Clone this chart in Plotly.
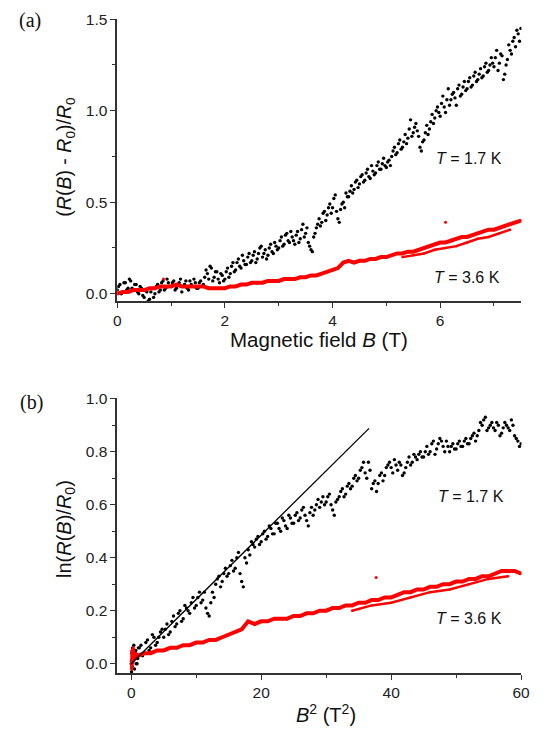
import numpy as np
import plotly.graph_objects as go

# ---------------- Panel (a): (R(B)-R0)/R0 vs B ----------------
# T = 1.7 K, sweep 1: B = 0 .. 7.5 T in steps of 0.05 T
black_a_B = np.round(np.arange(0, 7.5001, 0.05), 3)
black_a_y = [
    0.02, 0.05, 0.01, 0.06, 0.03, 0.07, 0.02, 0.05, 0.00, 0.03,
    -0.02, 0.01, -0.03, 0.03, 0.00, 0.05, 0.02, 0.07, 0.03, 0.06,
    0.04, 0.07, 0.03, 0.06, 0.01, 0.05, 0.03, 0.07, 0.04, 0.06,
    0.03, 0.07, 0.05, 0.13, 0.08, 0.14, 0.09, 0.12, 0.06, 0.10,
    0.08, 0.14, 0.11, 0.17, 0.13, 0.19, 0.14, 0.18, 0.16, 0.22,
    0.18, 0.23, 0.19, 0.25, 0.20, 0.24, 0.21, 0.27, 0.22, 0.26,
    0.25, 0.31, 0.27, 0.33, 0.28, 0.31, 0.27, 0.34, 0.30, 0.38,
    0.33, 0.28, 0.24, 0.31, 0.36, 0.41, 0.39, 0.45, 0.43, 0.49,
    0.47, 0.54, 0.41, 0.46, 0.50, 0.55, 0.53, 0.59, 0.57, 0.62,
    0.60, 0.65, 0.62, 0.68, 0.63, 0.67, 0.66, 0.72, 0.68, 0.74,
    0.69, 0.73, 0.75, 0.80, 0.77, 0.84, 0.80, 0.87, 0.85, 0.95,
    0.88, 0.93, 0.86, 0.78, 0.84, 0.92, 0.90, 0.98, 0.96, 1.02,
    0.97, 1.08, 0.99, 1.12, 1.06, 1.10, 1.03, 1.14, 1.09, 1.16,
    1.12, 1.18, 1.14, 1.21, 1.17, 1.23, 1.19, 1.26, 1.22, 1.29,
    1.24, 1.33, 1.26, 1.30, 1.20, 1.28, 1.33, 1.38, 1.35, 1.42,
    1.45,
]
# T = 1.7 K, sweep 2: B = 0.025 .. 7.475 T in steps of 0.05 T
black_a_B2 = np.round(np.arange(0.025, 7.5, 0.05), 3)
black_a_y2 = [
    0.04, 0.00, 0.06, 0.02, 0.08, 0.03, 0.05, 0.01, 0.04, -0.01,
    0.02, -0.04, 0.01, -0.02, 0.04, 0.01, 0.06, 0.02, 0.08, 0.04,
    0.06, 0.02, 0.05, 0.08, 0.04, 0.07, 0.02, 0.05, 0.08, 0.03,
    0.06, 0.04, 0.09, 0.11, 0.15, 0.07, 0.12, 0.08, 0.11, 0.07,
    0.12, 0.09, 0.15, 0.12, 0.17, 0.15, 0.21, 0.16, 0.20, 0.17,
    0.21, 0.17, 0.22, 0.26, 0.22, 0.19, 0.25, 0.23, 0.28, 0.24,
    0.29, 0.26, 0.32, 0.29, 0.34, 0.29, 0.32, 0.28, 0.35, 0.31,
    0.36, 0.26, 0.23, 0.33, 0.38, 0.37, 0.44, 0.40, 0.47, 0.44,
    0.52, 0.45, 0.39, 0.49, 0.47, 0.53, 0.56, 0.55, 0.61, 0.58,
    0.64, 0.61, 0.66, 0.64, 0.70, 0.65, 0.70, 0.68, 0.71, 0.70,
    0.72, 0.70, 0.78, 0.76, 0.82, 0.79, 0.83, 0.82, 0.90, 0.86,
    0.91, 0.89, 0.80, 0.83, 0.88, 0.87, 0.94, 0.93, 1.00, 0.99,
    1.04, 1.02, 1.06, 1.03, 1.09, 1.07, 1.12, 1.08, 1.13, 1.11,
    1.16, 1.13, 1.19, 1.16, 1.20, 1.18, 1.24, 1.21, 1.25, 1.26,
    1.29, 1.22, 1.31, 1.17, 1.25, 1.36, 1.31, 1.40, 1.44, 1.38,
]

# T = 3.6 K, B = 0 .. 7.5 T in steps of 0.1 T
red_a_B = np.round(np.arange(0, 7.5001, 0.1), 3)
red_a_y = [
    0.00, 0.01, 0.01, 0.02, 0.02, 0.02, 0.03, 0.03, 0.04, 0.04,
    0.04, 0.05, 0.04, 0.04, 0.04, 0.04, 0.04, 0.03, 0.03, 0.03,
    0.03, 0.04, 0.04, 0.05, 0.05, 0.06, 0.06, 0.06, 0.07, 0.07,
    0.07, 0.08, 0.08, 0.08, 0.09, 0.09, 0.10, 0.10, 0.11, 0.12,
    0.13, 0.14, 0.17, 0.18, 0.17, 0.18, 0.18, 0.19, 0.19, 0.20,
    0.20, 0.21, 0.22, 0.22, 0.23, 0.23, 0.24, 0.25, 0.26, 0.27,
    0.28, 0.28, 0.29, 0.30, 0.31, 0.31, 0.32, 0.33, 0.34, 0.35,
    0.35, 0.36, 0.37, 0.38, 0.39, 0.40,
]
# lower sweep branch of the 3.6 K curve
red_a_low_B = [5.3, 5.5, 5.7, 5.9, 6.1, 6.3, 6.5, 6.7, 6.9, 7.1, 7.3]
red_a_low_y = [0.20, 0.21, 0.22, 0.24, 0.25, 0.26, 0.28, 0.30, 0.31, 0.33, 0.35]
red_a_out_B = [0.86, 6.1]
red_a_out_y = [0.08, 0.39]

# ---------------- Panel (b): ln(R(B)/R0) vs B^2 ----------------
black_b_near0_x = [0.05, 0.1, 0.15, 0.2, 0.3, 0.4, 0.5, 0.7, 0.9, 1.1]
black_b_near0_y = [-0.03, 0.04, -0.01, 0.06, 0.01, 0.07, -0.02, 0.05, 0.00, 0.06]
black_b_x = np.round(np.arange(0, 60.001, 0.5), 2)
black_b_y = [
    0.00, 0.05, 0.02, 0.07, 0.04, 0.09, 0.06, 0.10, 0.08, 0.12,
    0.10, 0.15, 0.12, 0.18, 0.15, 0.20, 0.17, 0.21, 0.19, 0.25,
    0.22, 0.27, 0.24, 0.21, 0.18, 0.27, 0.30, 0.33, 0.31, 0.36,
    0.34, 0.39, 0.36, 0.42, 0.31, 0.40, 0.43, 0.46, 0.44, 0.48,
    0.46, 0.50, 0.48, 0.51, 0.49, 0.53, 0.50, 0.54, 0.51, 0.55,
    0.53, 0.57, 0.55, 0.59, 0.54, 0.57, 0.56, 0.60, 0.59, 0.63,
    0.61, 0.64, 0.58, 0.61, 0.63, 0.66, 0.64, 0.68, 0.67, 0.71,
    0.70, 0.74, 0.72, 0.76, 0.66, 0.69, 0.68, 0.72, 0.71, 0.75,
    0.74, 0.77, 0.73, 0.75, 0.72, 0.76, 0.75, 0.79, 0.77, 0.80,
    0.78, 0.82, 0.80, 0.84, 0.81, 0.85, 0.82, 0.84, 0.80, 0.83,
    0.81, 0.84, 0.82, 0.85, 0.83, 0.86, 0.84, 0.88, 0.90, 0.93,
    0.89, 0.91, 0.88, 0.90, 0.87, 0.91, 0.89, 0.92, 0.86, 0.84,
    0.83,
]
black_b_x2 = np.round(np.arange(0.25, 60, 0.5), 2)
black_b_y2 = [
    0.03, 0.00, 0.06, 0.03, 0.08, 0.05, 0.11, 0.07, 0.10, 0.13,
    0.13, 0.11, 0.16, 0.14, 0.19, 0.16, 0.22, 0.20, 0.23, 0.21,
    0.25, 0.23, 0.27, 0.19, 0.23, 0.25, 0.32, 0.29, 0.34, 0.33,
    0.37, 0.35, 0.40, 0.34, 0.29, 0.38, 0.41, 0.45, 0.47, 0.45,
    0.49, 0.47, 0.52, 0.49, 0.53, 0.51, 0.55, 0.52, 0.56, 0.53,
    0.56, 0.54, 0.58, 0.56, 0.52, 0.59, 0.58, 0.62, 0.61, 0.60,
    0.63, 0.60, 0.56, 0.62, 0.65, 0.63, 0.67, 0.66, 0.70, 0.69,
    0.73, 0.76, 0.70, 0.73, 0.68, 0.65, 0.71, 0.69, 0.74, 0.76,
    0.72, 0.75, 0.76, 0.71, 0.74, 0.78, 0.76, 0.78, 0.79, 0.78,
    0.80, 0.79, 0.83, 0.79, 0.83, 0.84, 0.80, 0.82, 0.82, 0.81,
    0.83, 0.82, 0.84, 0.83, 0.85, 0.87, 0.86, 0.91, 0.92, 0.88,
    0.90, 0.89, 0.91, 0.86, 0.89, 0.90, 0.88, 0.90, 0.85, 0.82,
]

red_b_near0_x = [0.05, 0.1, 0.2, 0.3, 0.5, 0.7, 1.0]
red_b_near0_y = [-0.02, 0.05, 0.00, 0.06, 0.02, 0.04, 0.03]
red_b_x = np.arange(0, 61, 1)
red_b_y = [
    0.01, 0.03, 0.04, 0.04, 0.05, 0.05, 0.06, 0.06, 0.07, 0.07,
    0.08, 0.08, 0.09, 0.09, 0.10, 0.11, 0.12, 0.13, 0.16, 0.15,
    0.16, 0.16, 0.17, 0.17, 0.17, 0.18, 0.18, 0.19, 0.19, 0.20,
    0.20, 0.21, 0.21, 0.22, 0.22, 0.23, 0.23, 0.24, 0.24, 0.25,
    0.25, 0.26, 0.27, 0.27, 0.28, 0.28, 0.29, 0.29, 0.30, 0.30,
    0.31, 0.31, 0.32, 0.32, 0.33, 0.33, 0.34, 0.35, 0.35, 0.35,
    0.34,
]
red_b_low_x = [34, 37, 40, 43, 46, 49, 52, 55, 58]
red_b_low_y = [0.20, 0.22, 0.23, 0.25, 0.27, 0.28, 0.30, 0.32, 0.33]
red_b_out_x = [37.7]
red_b_out_y = [0.325]

# linear fit in panel (b)
fit_x = [0.0, 36.6]
fit_y = [0.0, 0.888]

W, H = 548, 731
BLACK = "#000000"
RED = "#ff0000"

fig = go.Figure()


def add_line(x, y, color, xa, ya, lw, ms):
    fig.add_trace(go.Scatter(x=x, y=y, mode="lines+markers", xaxis=xa, yaxis=ya,
                             line=dict(color=color, width=lw),
                             marker=dict(color=color, size=ms), showlegend=False,
                             hoverinfo="skip"))


def add_pts(x, y, color, xa, ya, ms):
    fig.add_trace(go.Scatter(x=x, y=y, mode="markers", xaxis=xa, yaxis=ya,
                             marker=dict(color=color, size=ms, line=dict(width=0)),
                             showlegend=False, hoverinfo="skip"))


# panel (a)
add_pts(black_a_B, black_a_y, BLACK, "x", "y", 3.4)
add_pts(black_a_B2, black_a_y2, BLACK, "x", "y", 3.4)
add_line(red_a_B, red_a_y, RED, "x", "y", 4, 3)
add_line(red_a_low_B, red_a_low_y, RED, "x", "y", 2.5, 2.5)
add_pts(red_a_out_B, red_a_out_y, RED, "x", "y", 3)

# panel (b)
add_pts(black_b_near0_x, black_b_near0_y, BLACK, "x2", "y2", 3.4)
add_pts(black_b_x, black_b_y, BLACK, "x2", "y2", 3.4)
add_pts(black_b_x2, black_b_y2, BLACK, "x2", "y2", 3.4)
add_line(red_b_near0_x, red_b_near0_y, RED, "x2", "y2", 3, 3)
add_line(red_b_x, red_b_y, RED, "x2", "y2", 4, 3)
add_line(red_b_low_x, red_b_low_y, RED, "x2", "y2", 2.5, 2.5)
add_pts(red_b_out_x, red_b_out_y, RED, "x2", "y2", 3)
fig.add_trace(go.Scatter(x=fit_x, y=fit_y, mode="lines", xaxis="x2", yaxis="y2",
                         line=dict(color=BLACK, width=1.3), showlegend=False,
                         hoverinfo="skip"))

FONT = "Liberation Sans, Arial, sans-serif"
SERIF = "Liberation Serif, Times New Roman, serif"
AXC = "#333333"


def px(x):
    return x / W


def py(y):
    return 1 - y / H


def axis_common(dtick, minor_dtick, rng, fmt=None):
    d = dict(range=rng, dtick=dtick, tick0=0, ticks="outside", ticklen=5, tickwidth=1.3,
             tickcolor=AXC, showline=True, linecolor=AXC, linewidth=1.5,
             showgrid=False, zeroline=False, mirror=False,
             tickfont=dict(family=FONT, size=15.5, color="#222222"),
             minor=dict(dtick=minor_dtick, tick0=0, ticks="outside", ticklen=3,
                        tickwidth=1.2, tickcolor=AXC, showgrid=False))
    if fmt:
        d["tickformat"] = fmt
    return d


fig.update_layout(
    width=W, height=H, margin=dict(l=0, r=0, t=0, b=0),
    paper_bgcolor="white", plot_bgcolor="white",
    xaxis=dict(domain=[px(116), px(530)], anchor="y",
               **axis_common(2, 1, [0, 7.51])),
    yaxis=dict(domain=[py(296.7), py(11)], anchor="x",
               **axis_common(0.5, 0.25, [-0.04, 1.502], ".1f")),
    xaxis2=dict(domain=[px(116), px(530)], anchor="y2",
                **axis_common(20, 10, [-2.15, 60.05])),
    yaxis2=dict(domain=[py(673.3), py(395)], anchor="x2",
                **axis_common(0.2, 0.1, [-0.035, 1.002], ".1f")),
)

ann = []


def add_text(text, x, y, size, family=FONT, angle=0, color="#111111"):
    ann.append(dict(text=text, x=px(x), y=py(y), xref="paper", yref="paper",
                    xanchor="center", yanchor="middle", showarrow=False,
                    textangle=angle, font=dict(family=family, size=size, color=color)))


add_text("(a)", 27, 13, 20, SERIF)
add_text("(b)", 28, 399, 20, SERIF)
add_text("(<i>R</i>(<i>B</i>) - <i>R</i><sub>0</sub>)/<i>R</i><sub>0</sub>", 63, 151, 19.5, angle=-90)
add_text("Magnetic field <i>B</i> (T)", 323, 336, 20.5)
add_text("ln(<i>R</i>(<i>B</i>)/<i>R</i><sub>0</sub>)", 63, 528, 20, angle=-90)
add_text("<i>B</i><sup>2</sup> (T<sup>2</sup>)", 330, 714, 20)
add_text("<i>T</i> = 1.7 K", 476, 152, 16)
add_text("<i>T</i> = 3.6 K", 474, 273, 16)
add_text("<i>T</i> = 1.7 K", 478, 495, 16)
add_text("<i>T</i> = 3.6 K", 476, 618, 16)
fig.update_layout(annotations=ann)

fig.write_html(
    "out.html",
    config={"displayModeBar": False},
    post_script="document.body.style.margin='0';document.body.style.overflow='hidden';",
)
